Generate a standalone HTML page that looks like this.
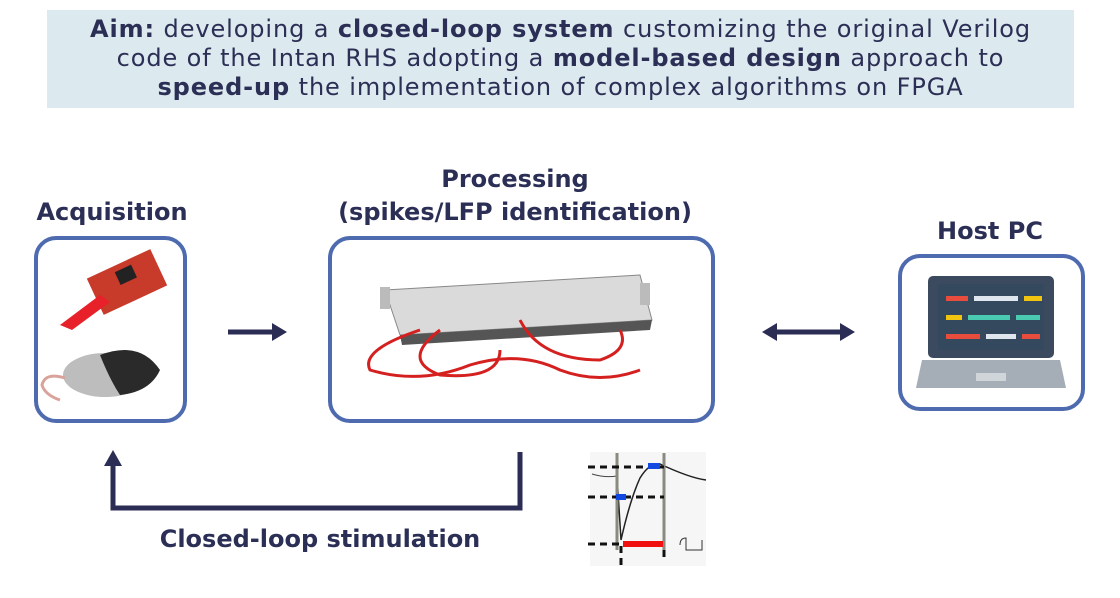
<!DOCTYPE html>
<html><head><meta charset="utf-8"><style>
body{margin:0;width:1120px;height:598px;background:#fff;position:relative;overflow:hidden;font-family:"DejaVu Sans","Liberation Sans",sans-serif;color:#2b2f55}
.ban{position:absolute;left:47px;top:10px;width:1027px;height:98px;background:#dce9ee;text-align:center;font-size:24px;line-height:29px;padding-top:5px;box-sizing:border-box;color:#2b2f55;letter-spacing:0.9px;white-space:nowrap}
.lbl{position:absolute;font-weight:bold;font-size:24px;text-align:center;white-space:nowrap}
.box{position:absolute;border:4px solid #4f6bb0;border-radius:22px;box-sizing:border-box;background:#fff}
</style></head><body>
<div class="ban"><b>Aim:</b> developing a <b>closed-loop system</b> customizing the original Verilog<br>code of the Intan RHS adopting a <b>model-based design</b> approach to<br><b>speed-up</b> the implementation of complex algorithms on FPGA</div>
<div class="lbl" style="left:12px;width:200px;top:198px">Acquisition</div>
<div class="lbl" style="left:315px;width:400px;top:163px;line-height:33px">Processing<br>(spikes/LFP identification)</div>
<div class="lbl" style="left:890px;width:200px;top:217px">Host PC</div>
<div class="lbl" style="left:120px;width:400px;top:525px">Closed-loop stimulation</div>
<div class="box" style="left:34px;top:236px;width:153px;height:187px"></div>
<div class="box" style="left:328px;top:236px;width:387px;height:187px"></div>
<div class="box" style="left:898px;top:254px;width:187px;height:157px"></div>
<svg width="1120" height="598" style="position:absolute;left:0;top:0">
<rect x="92" y="262" width="70" height="40" fill="#c83a2a" transform="rotate(-25 127 282)"/>
<rect x="120" y="268" width="18" height="14" fill="#222" transform="rotate(-25 127 282)"/>
<path d="M60 325 L100 295 L110 302 L72 330Z" fill="#e8202a"/>
<ellipse cx="105" cy="375" rx="42" ry="22" fill="#bdbdbd"/>
<path d="M100 355 Q140 340 160 370 Q150 392 120 395 Q110 380 100 355Z" fill="#2a2a2a"/>
<path d="M65 378 Q45 372 42 385 Q45 395 60 400" stroke="#d9a29a" stroke-width="3" fill="none"/>
<path d="M385 290 L640 275 L652 320 L400 335Z" fill="#dadada" stroke="#888"/>
<rect x="380" y="287" width="10" height="22" fill="#bbb"/><rect x="640" y="283" width="10" height="22" fill="#bbb"/>
<path d="M400 335 L652 320 L650 330 L402 345Z" fill="#555"/>
<path d="M420 330 Q360 350 370 370 Q420 385 470 365 Q520 350 560 370 Q600 385 640 370" stroke="#d52020" stroke-width="3" fill="none"/>
<path d="M440 330 Q400 360 440 375 Q500 380 500 350" stroke="#d52020" stroke-width="3" fill="none"/>
<path d="M520 320 Q540 360 600 360 Q630 350 620 330" stroke="#d52020" stroke-width="3" fill="none"/>
<rect x="928" y="276" width="126" height="82" rx="5" fill="#3b4a5e"/>
<rect x="938" y="284" width="106" height="66" fill="#34495e"/>
<rect x="946" y="296" width="22" height="5" fill="#e74c3c"/><rect x="974" y="296" width="44" height="5" fill="#dfe6ee"/><rect x="1024" y="296" width="18" height="5" fill="#f1c40f"/>
<rect x="946" y="315" width="16" height="5" fill="#f1c40f"/><rect x="968" y="315" width="42" height="5" fill="#48c9b0"/><rect x="1016" y="315" width="24" height="5" fill="#48c9b0"/>
<rect x="946" y="334" width="34" height="5" fill="#e74c3c"/><rect x="986" y="334" width="30" height="5" fill="#dfe6ee"/><rect x="1022" y="334" width="18" height="5" fill="#e74c3c"/>
<path d="M922 360 L1060 360 L1066 388 L916 388Z" fill="#a5adb6"/>
<rect x="976" y="373" width="30" height="8" fill="#d0d5da"/>
<g fill="#2b2d55" stroke="#2b2d55">
<line x1="228" y1="332" x2="275" y2="332" stroke-width="5"/><path d="M287 332 L272 323 L272 341Z" stroke="none"/>
<line x1="774" y1="332" x2="842" y2="332" stroke-width="5"/><path d="M762 332 L777 323 L777 341Z" stroke="none"/><path d="M855 332 L840 323 L840 341Z" stroke="none"/>
<path d="M520 452 V508 H113 V465" fill="none" stroke-width="5"/><path d="M113 450 L104 466 L122 466Z" stroke="none"/>
</g>
<rect x="590" y="452" width="116" height="114" fill="#f6f6f6"/>
<path d="M592 474 Q605 478 617 476" stroke="#444" stroke-width="1" fill="none"/>
<path d="M617 476 L621 540 Q630 500 640 478 Q650 462 660 464 Q690 478 706 480" stroke="#222" stroke-width="1.5" fill="none"/>
<line x1="617" y1="453" x2="617" y2="550" stroke="#8a8a7e" stroke-width="3"/>
<line x1="664" y1="453" x2="664" y2="550" stroke="#8a8a7e" stroke-width="3"/>
<g stroke="#111" stroke-width="3" stroke-dasharray="7,5"><line x1="588" y1="467" x2="664" y2="467"/><line x1="588" y1="497" x2="664" y2="497"/><line x1="588" y1="544" x2="620" y2="544"/><line x1="621" y1="546" x2="621" y2="566"/><line x1="664" y1="550" x2="664" y2="560"/></g>
<rect x="616" y="494" width="10" height="6" fill="#1249e0"/><rect x="648" y="463" width="12" height="6" fill="#1249e0"/>
<rect x="623" y="541" width="40" height="6" fill="#f01010"/>
<path d="M680 545 Q680 538 686 538 L686 550 L702 550 L702 540" stroke="#333" fill="none"/>
</svg>
</body></html>
